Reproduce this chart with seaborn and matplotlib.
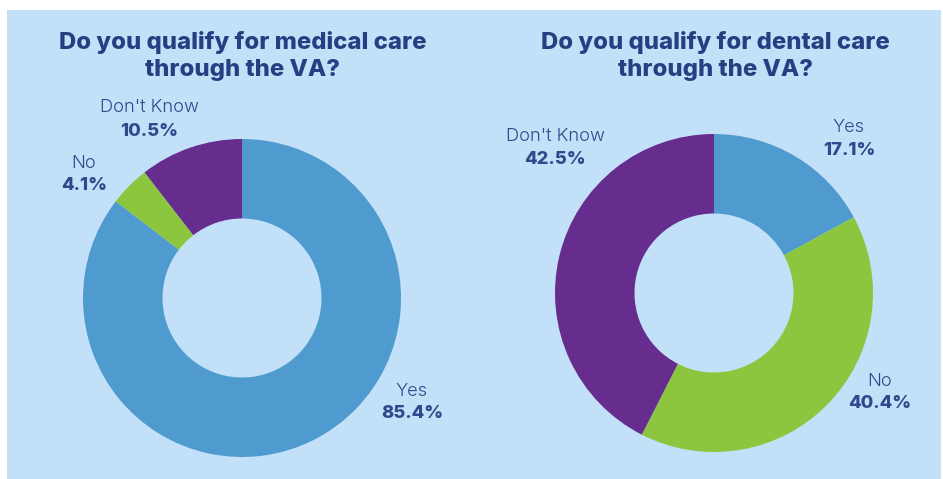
import matplotlib
matplotlib.use("Agg")
import matplotlib.pyplot as plt
import seaborn as sns
from matplotlib.patches import Rectangle

# --- data ---
categories = ["Yes", "No", "Don't Know"]
medical_pct = [85.4, 4.1, 10.5]
dental_pct = [17.1, 40.4, 42.5]
titles = ["Do you qualify for medical care\nthrough the VA?",
          "Do you qualify for dental care\nthrough the VA?"]

# --- style ---
sns.set_theme(style="white")
plt.rcParams['font.family'] = ['Inter', 'DejaVu Sans']
palette = sns.color_palette(["#4f9bcf", "#8cc63f", "#662d8f"])
BG = "#c2e0f7"
TITLE_C = "#263f82"
LABEL_C = "#2f4a8c"

W, H = 943, 479
fig = plt.figure(figsize=(W / 100, H / 100), dpi=100)
fig.patch.set_facecolor("white")
fig.patches.append(Rectangle((7 / W, 0), (941 - 7) / W, (479 - 10) / H,
                             transform=fig.transFigure, facecolor=BG,
                             edgecolor="none", zorder=-10))

# donut centre / radius in pixels, and label positions (pixels) per category
charts = [
    dict(values=medical_pct, cx=242, cy=298, r=159, title_x=243,
         label_px={"Yes": (412, 391), "No": (84, 163), "Don't Know": (149, 108)}),
    dict(values=dental_pct, cx=714, cy=293, r=159, title_x=715,
         label_px={"Yes": (849, 128), "No": (880, 381), "Don't Know": (555, 137)}),
]

for ch, title in zip(charts, titles):
    cx, cy, r = ch["cx"], ch["cy"], ch["r"]
    ax = fig.add_axes([(cx - r) / W, (H - cy - r) / H, 2 * r / W, 2 * r / H])
    ax.pie(ch["values"], colors=palette, startangle=90, counterclock=False,
           radius=1, wedgeprops=dict(width=0.5, linewidth=0))
    ax.set_xlim(-1, 1)
    ax.set_ylim(-1, 1)
    ax.set_aspect("auto")
    ax.axis("off")

    for cat, val in zip(categories, ch["values"]):
        px, py = ch["label_px"][cat]
        fig.text(px / W, 1 - py / H, cat, ha="center", va="center",
                 fontsize=13.2, fontweight=300, color=LABEL_C)
        fig.text(px / W, 1 - (py + 23) / H, f"{val}%", ha="center", va="center",
                 fontsize=13.2, fontweight=800, color=LABEL_C)

    fig.text(ch["title_x"] / W, 1 - 56 / H, title, ha="center", va="center",
             fontsize=17.2, fontweight=800, color=TITLE_C, linespacing=1.35)

fig.savefig("out.png", dpi=100, facecolor=fig.get_facecolor())
